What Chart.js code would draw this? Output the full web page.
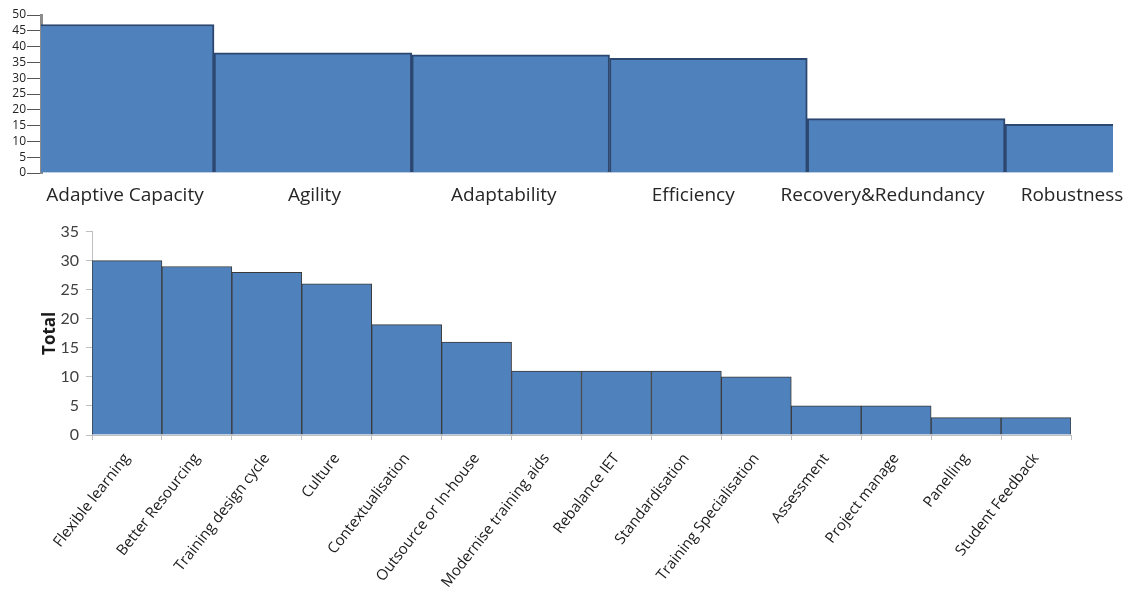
<!DOCTYPE html>
<html>
<head>
<meta charset="utf-8">
<script src="https://cdn.jsdelivr.net/npm/chart.js@4.4.1/dist/chart.umd.min.js"></script>
<style>
  html, body { margin: 0; padding: 0; background: #ffffff; overflow: hidden; }
  body { width: 1129px; height: 594px; position: relative; }
  #topWrap { position: absolute; left: 0; top: 0; width: 1129px; height: 212px; }
  #botWrap { position: absolute; left: 0; top: 215px; width: 1129px; height: 379px; }
</style>
</head>
<body>
<div id="topWrap"><canvas id="topChart"></canvas></div>
<div id="botWrap"><canvas id="botChart"></canvas></div>
<script>
// ---- Top chart data ----
const topCategories = ['Adaptive Capacity', 'Agility', 'Adaptability', 'Efficiency', 'Recovery&Redundancy', 'Robustness'];
const topValues = [47, 38, 37.4, 36.3, 17.2, 15.4];
const topYTicks = [0, 5, 10, 15, 20, 25, 30, 35, 40, 45, 50];

// ---- Bottom chart data ----
const botCategories = ['Flexible learning', 'Better Resourcing', 'Training design cycle', 'Culture', 'Contextualisation',
  'Outsource or In-house', 'Modernise training aids', 'Rebalance IET', 'Standardisation', 'Training Specialisation',
  'Assessment', 'Project manage', 'Panelling', 'Student Feedback'];
const botValues = [30, 29, 28, 26, 19, 16, 11, 11, 11, 10, 5, 5, 3, 3];
const botYTicks = [0, 5, 10, 15, 20, 25, 30, 35];
const botAxisTitle = 'Total';

// ---- Top chart ----
new Chart(document.getElementById('topChart'), {
  type: 'bar',
  data: {
    datasets: [{
      data: topValues.map((v, i) => ({ x: i, y: v })),
      xAxisID: 'xb',
      backgroundColor: '#4f81bd',
      borderColor: '#2c4770',
      borderWidth: 2,
      barPercentage: 1,
      categoryPercentage: 1,
      clip: 0
    }]
  },
  options: {
    responsive: true,
    maintainAspectRatio: false,
    animation: false,
    layout: { padding: { top: 15, right: 16, left: 0, bottom: 0 } },
    plugins: { legend: { display: false }, tooltip: { enabled: false } },
    scales: {
      xb: {
        type: 'linear', display: false, position: 'bottom',
        min: -0.375, max: 5.046, offset: false,
        afterBuildTicks: (s) => { s.ticks = topCategories.map((_, i) => ({ value: i })); }
      },
      x: {
        type: 'linear', position: 'bottom',
        min: -0.4435, max: 5.2165, offset: false,
        grid: { display: true, drawOnChartArea: false, drawTicks: true, tickLength: 11, color: 'rgba(0,0,0,0)' },
        border: { display: false },
        afterBuildTicks: (s) => { s.ticks = topCategories.map((_, i) => ({ value: i })); },
        afterFit: (s) => { s.height = 39; },
        ticks: {
          autoSkip: false, maxRotation: 0, minRotation: 0, padding: 0,
          color: '#262626',
          font: { family: 'Open Sans', size: 19 },
          callback: (v) => topCategories[v] ?? ''
        }
      },
      y: {
        min: 0, max: 50,
        afterBuildTicks: (s) => { s.ticks = topYTicks.map(v => ({ value: v })); },
        afterFit: (s) => { s.width = 41; },
        grid: { drawOnChartArea: false, drawTicks: true, tickLength: 14, color: '#555555', lineWidth: 1 },
        border: { color: '#8c8c8c', width: 3 },
        ticks: {
          autoSkip: false, padding: 1, color: '#222222',
          font: { family: 'Open Sans', size: 12 }
        }
      }
    }
  }
});

// ---- Bottom chart ----
new Chart(document.getElementById('botChart'), {
  type: 'bar',
  data: {
    labels: botCategories,
    datasets: [{
      data: botValues,
      backgroundColor: '#4f81bd',
      borderColor: '#3a3a3a',
      borderWidth: 1,
      barPercentage: 1,
      categoryPercentage: 1
    }]
  },
  options: {
    responsive: true,
    maintainAspectRatio: false,
    animation: false,
    layout: { padding: { top: 15, right: 58, left: 0, bottom: 0 } },
    plugins: { legend: { display: false }, tooltip: { enabled: false } },
    scales: {
      x: {
        grid: { drawOnChartArea: false, drawTicks: true, tickLength: 5, color: '#bfbfbf', offset: true },
        border: { color: '#bfbfbf', width: 1 },
        afterFit: (s) => { s.height = 159; },
        ticks: {
          autoSkip: false, maxRotation: 52, minRotation: 52, padding: 10,
          color: '#1a1a1a',
          font: { family: 'Open Sans', size: 15 }
        }
      },
      y: {
        min: 0, max: 35,
        afterBuildTicks: (s) => { s.ticks = botYTicks.map(v => ({ value: v })); },
        afterFit: (s) => { s.width = 92; },
        grid: { drawOnChartArea: false, drawTicks: true, tickLength: 6, color: '#bfbfbf' },
        border: { color: '#bfbfbf', width: 1 },
        title: {
          display: true, text: botAxisTitle, color: '#1a1a1a',
          font: { family: 'Open Sans', size: 17, weight: 'bold' },
          padding: { top: 40, bottom: 0 }
        },
        ticks: {
          padding: 7, color: '#404040',
          font: { family: 'Lato', size: 16 }
        }
      }
    }
  }
});
</script>
</body>
</html>
